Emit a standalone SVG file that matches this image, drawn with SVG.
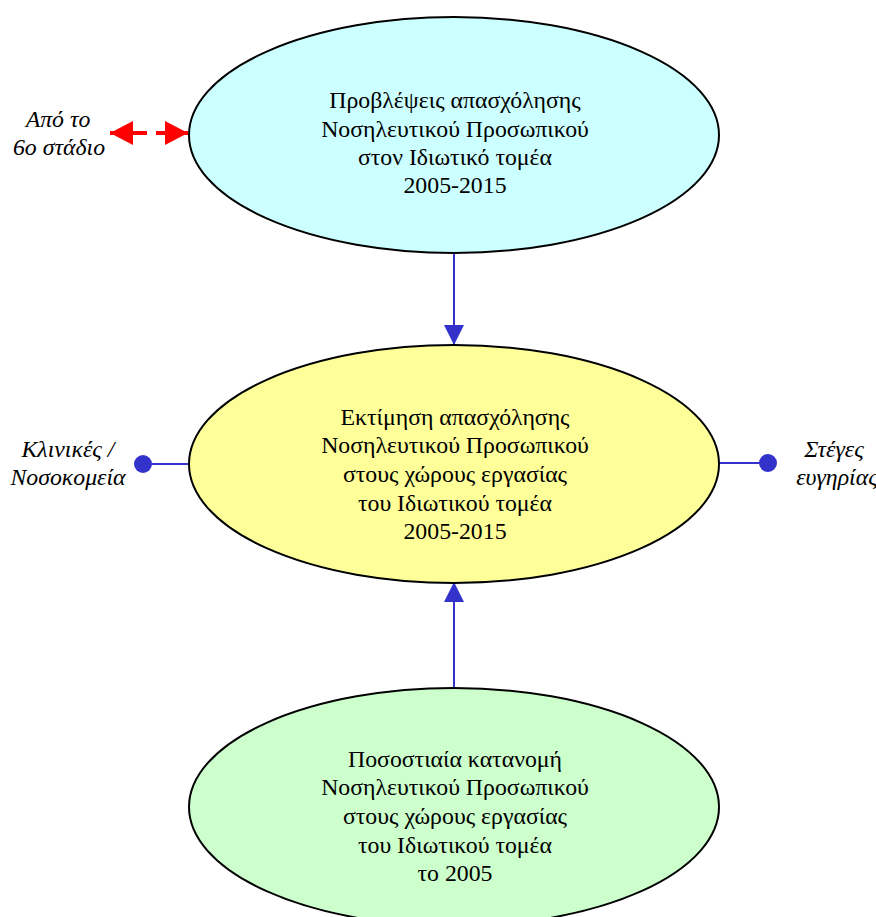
<svg xmlns="http://www.w3.org/2000/svg" width="876" height="917" viewBox="0 0 876 917">
<style>
.node{stroke:#000;stroke-width:2}
.t{font-family:"Liberation Serif","Times New Roman",serif;font-size:23.8px;fill:#000;text-anchor:middle}
.i{font-style:italic}
.blue{stroke:#3333cc;stroke-width:2;fill:none}
</style>
<defs>
<marker id="ab" viewBox="0 0 20 20" refX="20" refY="10" markerWidth="20" markerHeight="20" markerUnits="userSpaceOnUse" orient="auto">
<path d="M0,0 L20,10 L0,20 Z" fill="#3333cc"/>
</marker>
<marker id="ar" viewBox="0 0 23 24" refX="23" refY="12" markerWidth="23" markerHeight="24" markerUnits="userSpaceOnUse" orient="auto-start-reverse">
<path d="M0,0 L23,12 L0,24 Z" fill="#ff0000"/>
</marker>
</defs>
<rect width="876" height="917" fill="#fff"/>
<g id="connectors">
<line x1="454" y1="253" x2="454" y2="345" class="blue" marker-end="url(#ab)"/>
<line x1="454" y1="688" x2="454" y2="582" class="blue" marker-end="url(#ab)"/>
<line x1="143" y1="464" x2="189" y2="464" class="blue"/>
<circle cx="143" cy="464" r="9" fill="#3333cc"/>
<line x1="718" y1="463" x2="768" y2="463" class="blue"/>
<circle cx="768" cy="463" r="9" fill="#3333cc"/>
<line x1="110" y1="133" x2="188" y2="133" stroke="#ff0000" stroke-width="4" stroke-dasharray="37 9" marker-start="url(#ar)" marker-end="url(#ar)"/>
</g>
<g id="n1">
<ellipse cx="454" cy="135" rx="265" ry="118" class="node" fill="#ccffff"/>
<text class="t" x="455" y="108">Προβλέψεις απασχόλησης</text>
<text class="t" x="455" y="137">Νοσηλευτικού Προσωπικού</text>
<text class="t" x="455" y="165">στον Ιδιωτικό τομέα</text>
<text class="t" x="455" y="193">2005-2015</text>
</g>
<g id="n2">
<ellipse cx="454" cy="464" rx="265" ry="119" class="node" fill="#ffff99"/>
<text class="t" x="455" y="425">Εκτίμηση απασχόλησης</text>
<text class="t" x="455" y="453">Νοσηλευτικού Προσωπικού</text>
<text class="t" x="455" y="482">στους χώρους εργασίας</text>
<text class="t" x="455" y="511">του Ιδιωτικού τομέα</text>
<text class="t" x="455" y="539">2005-2015</text>
</g>
<g id="n3">
<ellipse cx="454" cy="807" rx="265" ry="119" class="node" fill="#ccffcc"/>
<text class="t" x="455" y="767">Ποσοστιαία κατανομή</text>
<text class="t" x="455" y="795">Νοσηλευτικού Προσωπικού</text>
<text class="t" x="455" y="824">στους χώρους εργασίας</text>
<text class="t" x="455" y="853">του Ιδιωτικού τομέα</text>
<text class="t" x="455" y="881">το 2005</text>
</g>
<g id="l1">
<text class="t i" x="58" y="127">Από το</text>
<text class="t i" x="59" y="155">6ο στάδιο</text>
</g>
<g id="l2">
<text class="t i" x="68" y="457">Κλινικές /</text>
<text class="t i" x="68" y="485">Νοσοκομεία</text>
</g>
<g id="l3">
<text class="t i" x="834" y="457">Στέγες</text>
<text class="t i" x="837" y="485">ευγηρίας</text>
</g>
</svg>
